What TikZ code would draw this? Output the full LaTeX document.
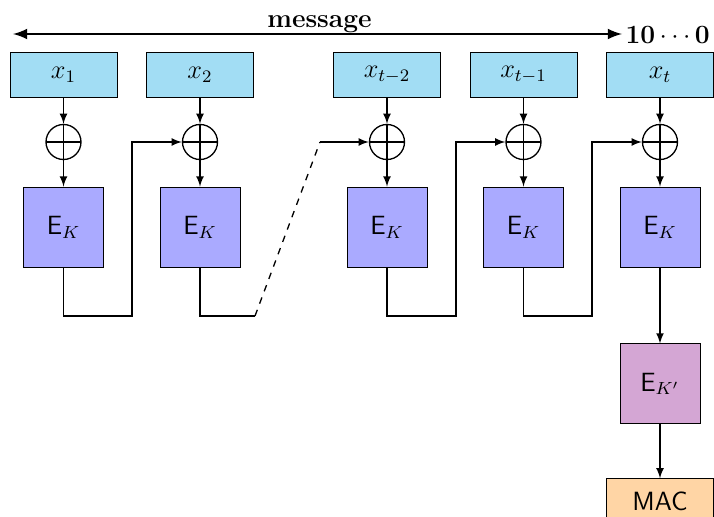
\documentclass[12pt,tikz,border=0pt]{standalone}
\usetikzlibrary{positioning}
\definecolor{blockcol}{RGB}{162,221,244}
\definecolor{enccol}{RGB}{170,170,255}
\definecolor{fincol}{RGB}{212,166,212}
\definecolor{maccol}{RGB}{255,213,165}
\begin{document}
\begin{tikzpicture}[semithick,
  blockbox/.style={draw, thin, fill=blockcol, minimum width=1.71cm, minimum height=0.72cm, inner sep=0pt},
  encbox/.style={draw, thin, fill=enccol, minimum size=1.28cm, inner sep=0pt, font=\sffamily},
  plusnode/.style={draw, circle, minimum size=0.56cm, inner sep=0pt,
    path picture={\draw (path picture bounding box.north) -- (path picture bounding box.south)
                        (path picture bounding box.west) -- (path picture bounding box.east);}},
  >=latex]
\useasboundingbox (0,0) rectangle (11.424,-8.272);

% message arrow
\coordinate (ml) at (0.208,-0.544);
\coordinate (mr) at (9.952,-0.544);
\draw[<->, very thick] (ml) -- (mr);
\node (msg) at (5.112,-0.448) [anchor=base] {\textbf{message}};
\node (pad) at (10.0,-0.56) [anchor=west, inner sep=0pt] {$\mathbf{10\cdots0}$};

% message blocks
\node (x1) at (1.016,-1.192) [blockbox] {$x_1$};
\node (x2) at (3.2,-1.192) [blockbox] {$x_2$};
\node (x3) at (6.192,-1.192) [blockbox] {$x_{t-2}$};
\node (x4) at (8.376,-1.192) [blockbox] {$x_{t-1}$};
\node (x5) at (10.56,-1.192) [blockbox] {$x_t$};

\node (o1) at (1.016,-2.272) [plusnode] {};
\node (o2) at (3.2,-2.272) [plusnode] {};
\node (o3) at (6.192,-2.272) [plusnode] {};
\node (o4) at (8.376,-2.272) [plusnode] {};
\node (o5) at (10.56,-2.272) [plusnode] {};

\node (e1) at (1.016,-3.632) [encbox] {E$_K$};
\node (e2) at (3.2,-3.632) [encbox] {E$_K$};
\node (e3) at (6.192,-3.632) [encbox] {E$_K$};
\node (e4) at (8.376,-3.632) [encbox] {E$_K$};
\node (e5) at (10.56,-3.632) [encbox] {E$_K$};

\node (ef) [encbox, fill=fincol, below=1.216cm of e5] {E$_{K'}$};
\node (mac) [blockbox, fill=maccol, font=\sffamily, below=0.864cm of ef] {MAC};

\draw[->] (x1) -- (o1);
\draw[->] (x2) -- (o2);
\draw[->] (x3) -- (o3);
\draw[->] (x4) -- (o4);
\draw[->] (x5) -- (o5);
\draw[->] (o1) -- (e1);
\draw[->] (o2) -- (e2);
\draw[->] (o3) -- (e3);
\draw[->] (o4) -- (e4);
\draw[->] (o5) -- (e5);

% chaining
\coordinate (b1) at (2.112,-5.056);
\coordinate (b2) at (4.08,-5.056);
\coordinate (b3) at (7.296,-5.056);
\coordinate (b4) at (9.472,-5.056);
\coordinate (d2) at (5.12,-2.272);
\draw[->] (e1.south) |- (b1) |- (o2.west);
\draw (e2.south) |- (b2);
\draw[dashed] (b2) -- (d2);
\draw[->] (d2) -- (o3.west);
\draw[->] (e3.south) |- (b3) |- (o4.west);
\draw[->] (e4.south) |- (b4) |- (o5.west);

\draw[->] (e5) -- (ef);
\draw[->] (ef) -- (mac);
\end{tikzpicture}
\end{document}
